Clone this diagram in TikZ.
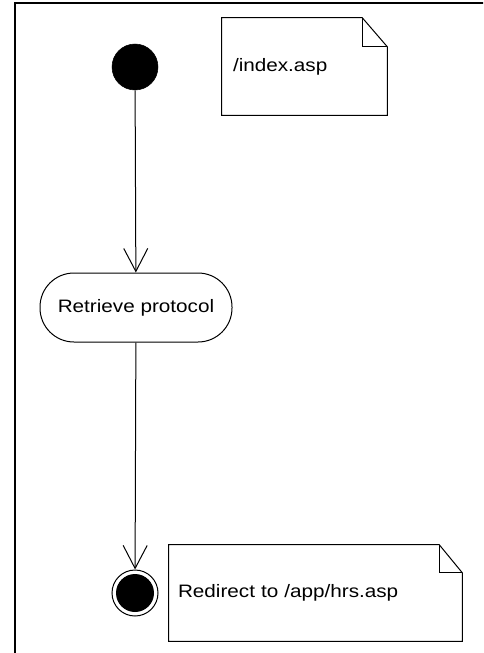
\documentclass[tikz,border=0pt]{standalone}
\usepackage{fontspec}
\newfontfamily\diafont[FakeStretch=1.15]{Liberation Sans}
\usetikzlibrary{arrows.meta}
\tikzset{
  lbl/.style={font=\diafont\fontsize{13.5pt}{16pt}\selectfont},
  startnode/.style={circle, fill=black, draw=black, minimum size=34.5pt, inner sep=0pt},
  finalnode/.style={circle, draw=black, line width=0.75pt, minimum size=34.5pt, inner sep=0pt,
    path picture={\fill[black] (path picture bounding box.center) circle (14.25pt);}},
  activity/.style={lbl, draw=black, line width=0.75pt, rounded corners=25.5pt,
    minimum width=144pt, minimum height=51.75pt, inner sep=0pt},
  notebox/.style={lbl, align=left, inner ysep=0pt},
  noteline/.style={draw=black, line width=0.75pt, line join=miter},
  flow/.style={draw=black, line width=0.75pt, -{Straight Barb[length=17.25pt, width=18pt, line width=0.75pt]}},
  frameline/.style={draw=black, line width=1.2pt}
}
\begin{document}
\begin{tikzpicture}[x=0.75pt, y=-0.75pt]
\useasboundingbox (0,0) rectangle (483,653);
\begin{scope}
\clip (0,0) rectangle (483,653);
\draw[frameline] (15,3) rectangle (520,690);
\end{scope}

\node[startnode] (start) at (135,67) {};
\node[activity] (act) at (136,307.5) {Retrieve protocol};
\node[finalnode] (final) at (135,593) {};

\node[notebox, minimum width=123.75pt, minimum height=72.75pt, text width=107.25pt, inner xsep=8.25pt] (note1) at (304.5,66.5) {/index.asp};
\node[notebox, minimum width=219.75pt, minimum height=72pt, text width=206.25pt, inner xsep=6.75pt] (note2) at (315.5,593) {Redirect to /app/hrs.asp};

\foreach \n/\fx/\fy in {note1/18.75pt/21.75pt, note2/17.25pt/21pt}{
  \draw[noteline] (\n.north west) -- ([xshift=-\fx]\n.north east) -- ([yshift=-\fy]\n.north east)
     -- (\n.south east) -- (\n.south west) -- cycle;
  \draw[noteline] ([xshift=-\fx]\n.north east) -- ([xshift=-\fx, yshift=-\fy]\n.north east)
     -- ([yshift=-\fy]\n.north east);
}

\draw[flow] (start) -- (act);
\draw[flow] (act) -- (final);
\end{tikzpicture}
\end{document}
